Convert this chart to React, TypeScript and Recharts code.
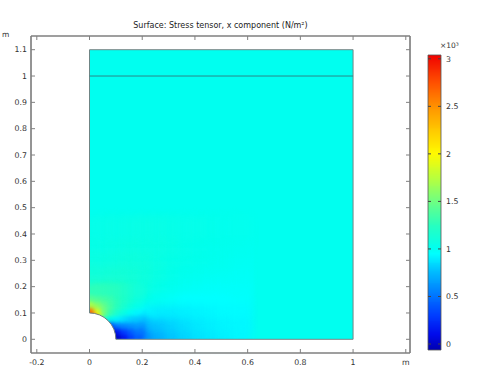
import React from 'react';
import { ComposedChart, XAxis, YAxis, ReferenceArea, ReferenceLine } from 'recharts';

// ---------- text ----------
const TITLE = 'Surface: Stress tensor, x component (N/m²)';
const X_UNIT = 'm';
const Y_UNIT = 'm';
const COLORBAR_SCALE = '×10³';

// ---------- axes ----------
const xTicks = [-0.2, 0, 0.2, 0.4, 0.6, 0.8, 1, 1.2];
const yTicks = [0, 0.1, 0.2, 0.3, 0.4, 0.5, 0.6, 0.7, 0.8, 0.9, 1, 1.1];
const xDomain = [-0.222, 1.216];
const yDomain = [-0.052, 1.152];

// ---------- colour bar (values in 10^3 N/m^2) ----------
const colorbarTicks = [0, 0.5, 1, 1.5, 2, 2.5, 3];
const colorbarRange = [-0.063, 3.04];
const colorbarStep = 0.01;

// ---------- geometry (m) ----------
const plateX = [0, 1];
const plateY = [0, 1.1];
const partitionY = 1;
const holeRadius = 0.1;
const farFieldValue = 1.0;

// ---------- field near the hole: fine cells (0.025 m) ----------
const fineEdges = [0, 0.025, 0.05, 0.075, 0.1, 0.125, 0.15, 0.175, 0.2];
// rows from bottom (y) to top, columns left (x) to right
const fineValues = [
  [0.5, -0.06, -0.03, -0.02, -0.02, 0.12, 0.29, 0.42],
  [2.34, 0.5, 0.02, -0.06, 0.16, 0.3, 0.41, 0.51],
  [2.74, 1.43, 0.5, 0.38, 0.55, 0.59, 0.62, 0.65],
  [2.95, 2.01, 1.22, 1.01, 0.93, 0.87, 0.82, 0.8],
  [2.65, 1.9, 1.5, 1.3, 1.16, 1.06, 0.98, 0.93],
  [1.72, 1.6, 1.46, 1.34, 1.25, 1.16, 1.09, 1.03],
  [1.42, 1.39, 1.35, 1.31, 1.25, 1.19, 1.14, 1.08],
  [1.27, 1.27, 1.26, 1.25, 1.23, 1.19, 1.15, 1.11],
];

// ---------- field around it: coarse cells (0.05 m) ----------
const coarseXEdges = [0, 0.05, 0.1, 0.15, 0.2, 0.25, 0.3, 0.35, 0.4, 0.45, 0.5, 0.55, 0.6];
const coarseYEdges = [0, 0.05, 0.1, 0.15, 0.2, 0.25, 0.3, 0.35, 0.4, 0.45];
const coarseValues = [
  [null, null, null, null, 0.59, 0.71, 0.78, 0.83, 0.87, 0.89, 0.91, 0.93],
  [null, null, null, null, 0.75, 0.79, 0.83, 0.86, 0.89, 0.91, 0.92, 0.93],
  [null, null, null, null, 0.93, 0.9, 0.9, 0.91, 0.92, 0.93, 0.94, 0.94],
  [null, null, null, null, 1.04, 0.99, 0.97, 0.95, 0.95, 0.95, 0.95, 0.96],
  [1.16, 1.18, 1.17, 1.13, 1.08, 1.04, 1.01, 0.99, 0.98, 0.97, 0.97, 0.97],
  [1.1, 1.11, 1.12, 1.11, 1.09, 1.06, 1.03, 1.01, 1.0, 0.99, 0.99, 0.98],
  [1.06, 1.07, 1.08, 1.09, 1.08, 1.06, 1.04, 1.03, 1.02, 1.01, 1.0, 0.99],
  [1.04, 1.05, 1.06, 1.07, 1.06, 1.06, 1.05, 1.03, 1.02, 1.01, 1.01, 1.0],
  [1.03, 1.04, 1.04, 1.05, 1.05, 1.05, 1.04, 1.03, 1.03, 1.02, 1.01, 1.01],
];

// ---------- colour table ----------
const cmapStops = [-0.063, 0.1, 0.3, 0.5, 0.75, 0.95, 1.0, 1.25, 1.5, 1.75, 2.0, 2.25, 2.5, 2.75, 3.04];
const cmapColors = [
  [0, 0, 175], [0, 10, 235], [0, 60, 255], [0, 115, 255], [0, 185, 255], [0, 255, 255],
  [0, 255, 240], [40, 255, 190], [110, 255, 130], [185, 255, 60], [255, 250, 0],
  [255, 200, 0], [255, 145, 0], [255, 80, 0], [240, 0, 0],
];

function colorFor(v: number): string {
  const s = cmapStops;
  const toRgb = (c: number[]) => `rgb(${Math.round(c[0])},${Math.round(c[1])},${Math.round(c[2])})`;
  if (v <= s[0]) return toRgb(cmapColors[0]);
  for (let k = 1; k < s.length; k++) {
    if (v <= s[k]) {
      const t = (v - s[k - 1]) / (s[k] - s[k - 1]);
      const a = cmapColors[k - 1];
      const b = cmapColors[k];
      return toRgb([a[0] + (b[0] - a[0]) * t, a[1] + (b[1] - a[1]) * t, a[2] + (b[2] - a[2]) * t]);
    }
  }
  return toRgb(cmapColors[cmapColors.length - 1]);
}

const FONT = 'DejaVu Sans';
const AXIS_GRAY = '#808080';
const LABEL = '#333333';

const crispShape = (p: any) => (
  <rect x={p.x} y={p.y} width={p.width} height={p.height} fill={p.fill} shapeRendering="crispEdges" />
);
// soft-edged cell: blurred, slightly enlarged so neighbours overlap; extra bleed at the plate edges
const softShape = (sigma: number, atLeft: boolean, atBottom: boolean) => (p: any) => {
  const pad = sigma;
  const padL = atLeft ? 2 * sigma : pad;
  const padB = atBottom ? 1.5 * sigma : pad;
  return (
    <rect
      x={p.x - padL} y={p.y - pad}
      width={p.width + padL + pad} height={p.height + pad + padB}
      fill={p.fill} style={{ filter: `blur(${sigma}px)` }}
    />
  );
};
const holeShape = (p: any) => {
  const { x, y, width: w, height: h } = p;
  return (
    <g>
      <path d={`M ${x} ${y} A ${w} ${h} 0 0 1 ${x + w} ${y + h} L ${x} ${y + h} Z`} fill="#ffffff" />
      <path d={`M ${x} ${y} A ${w} ${h} 0 0 1 ${x + w} ${y + h}`} fill="none" stroke="#707f7f" strokeWidth={1} />
    </g>
  );
};

function cells() {
  const out: any[] = [];
  coarseValues.forEach((row, j) =>
    row.forEach((v, i) => {
      if (v === null) return;
      out.push(
        <ReferenceArea
          key={`c-${i}-${j}`}
          x1={coarseXEdges[i]} x2={coarseXEdges[i + 1]} y1={coarseYEdges[j]} y2={coarseYEdges[j + 1]}
          fill={colorFor(v)} fillOpacity={1} stroke="none" ifOverflow="visible"
          shape={softShape(4, i === 0, j === 0)}
        />
      );
    })
  );
  fineValues.forEach((row, j) =>
    row.forEach((v, i) => {
      out.push(
        <ReferenceArea
          key={`f-${i}-${j}`}
          x1={fineEdges[i]} x2={fineEdges[i + 1]} y1={fineEdges[j]} y2={fineEdges[j + 1]}
          fill={colorFor(v)} fillOpacity={1} stroke="none" ifOverflow="visible"
          shape={softShape(2, i === 0, j === 0)}
        />
      );
    })
  );
  return out;
}

function colorbarSlices() {
  const out: any[] = [];
  const n = Math.round((colorbarRange[1] - colorbarRange[0]) / colorbarStep);
  for (let k = 0; k < n; k++) {
    const lo = colorbarRange[0] + k * colorbarStep;
    const hi = Math.min(colorbarRange[1], lo + colorbarStep);
    out.push(
      <ReferenceArea
        key={`cb-${k}`} yAxisId="cb" x1={0} x2={1} y1={lo} y2={hi}
        fill={colorFor((lo + hi) / 2)} fillOpacity={1} stroke="none" ifOverflow="visible" shape={crispShape}
      />
    );
  }
  return out;
}

const outline = '#6f8585';
const noLabel = () => '';

export default function App() {
  return (
    <div style={{ position: 'absolute', left: 0, top: 0, width: 483, height: 378, background: '#fff', fontFamily: FONT }}>
      <div
        style={{
          position: 'absolute', left: 31, width: 379, top: 21, textAlign: 'center',
          fontSize: 8, lineHeight: '10px', color: '#222', whiteSpace: 'nowrap',
        }}
      >
        {TITLE}
      </div>
      <div style={{ position: 'absolute', left: 2, top: 30, fontSize: 7.5, lineHeight: '9px', color: LABEL }}>{Y_UNIT}</div>
      <div style={{ position: 'absolute', left: 440, top: 41, fontSize: 7.5, lineHeight: '9px', color: LABEL }}>{COLORBAR_SCALE}</div>

      <div style={{ position: 'absolute', left: 0, top: 0 }}>
        <ComposedChart width={483} height={378} data={[]} margin={{ top: 35, right: 72, bottom: 0, left: 0 }}>
          <ReferenceArea
            x1={plateX[0]} x2={plateX[1]} y1={plateY[0]} y2={plateY[1]}
            fill={colorFor(farFieldValue)} fillOpacity={1} stroke="none" ifOverflow="visible" shape={crispShape}
          />
          {cells()}
          <ReferenceArea x1={-0.08} x2={plateX[0]} y1={-0.05} y2={0.6} fill="#ffffff" fillOpacity={1} stroke="none" ifOverflow="visible" shape={crispShape} />
          <ReferenceArea x1={-0.08} x2={0.8} y1={-0.05} y2={plateY[0]} fill="#ffffff" fillOpacity={1} stroke="none" ifOverflow="visible" shape={crispShape} />
          <ReferenceArea x1={0} x2={holeRadius} y1={0} y2={holeRadius} fill="#ffffff" fillOpacity={1} ifOverflow="visible" shape={holeShape} />
          <ReferenceLine segment={[{ x: plateX[0], y: holeRadius }, { x: plateX[0], y: plateY[1] }]} stroke={outline} strokeWidth={1} ifOverflow="visible" />
          <ReferenceLine segment={[{ x: plateX[0], y: plateY[1] }, { x: plateX[1], y: plateY[1] }]} stroke={outline} strokeWidth={1} ifOverflow="visible" />
          <ReferenceLine segment={[{ x: plateX[1], y: plateY[0] }, { x: plateX[1], y: plateY[1] }]} stroke={outline} strokeWidth={1} ifOverflow="visible" />
          <ReferenceLine segment={[{ x: holeRadius, y: plateY[0] }, { x: plateX[1], y: plateY[0] }]} stroke={outline} strokeWidth={1} ifOverflow="visible" />
          <ReferenceLine segment={[{ x: plateX[0], y: partitionY }, { x: plateX[1], y: partitionY }]} stroke="#2a8888" strokeWidth={1} ifOverflow="visible" />

          <ReferenceLine x={xDomain[0]} stroke={AXIS_GRAY} strokeWidth={1.2} ifOverflow="visible" />
          <ReferenceLine x={xDomain[1]} stroke={AXIS_GRAY} strokeWidth={1.2} ifOverflow="visible" />
          <ReferenceLine y={yDomain[0]} stroke={AXIS_GRAY} strokeWidth={1.2} ifOverflow="visible" />
          <ReferenceLine y={yDomain[1]} stroke={AXIS_GRAY} strokeWidth={1.2} ifOverflow="visible" />

          <XAxis
            type="number" dataKey="x" domain={xDomain} allowDataOverflow ticks={xTicks} interval={0}
            height={25} tickSize={-4} tickMargin={10}
            tickFormatter={(v: number) => (v === xTicks[xTicks.length - 1] ? X_UNIT : String(v))}
            axisLine={{ stroke: AXIS_GRAY, strokeWidth: 1.2 }} tickLine={{ stroke: AXIS_GRAY }}
            tick={{ fontSize: 7.8, fill: LABEL, fontFamily: FONT }}
          />
          <XAxis
            xAxisId="top" orientation="top" type="number" dataKey="x" domain={xDomain} allowDataOverflow ticks={xTicks} interval={0}
            height={1} tickSize={-4} tickFormatter={noLabel}
            axisLine={{ stroke: AXIS_GRAY, strokeWidth: 1.2 }} tickLine={{ stroke: AXIS_GRAY }}
            tick={{ fontSize: 1 }}
          />
          <YAxis
            type="number" dataKey="y" domain={yDomain} allowDataOverflow ticks={yTicks} interval={0}
            width={31} tickSize={-4} tickMargin={8}
            tickFormatter={(v: number) => String(v)}
            axisLine={{ stroke: AXIS_GRAY, strokeWidth: 1.2 }} tickLine={{ stroke: AXIS_GRAY }}
            tick={{ fontSize: 7.8, fill: LABEL, fontFamily: FONT }}
          />
          <YAxis
            yAxisId="right" orientation="right" type="number" dataKey="y" domain={yDomain} allowDataOverflow ticks={yTicks} interval={0}
            width={1} tickSize={-4} tickFormatter={noLabel}
            axisLine={{ stroke: AXIS_GRAY, strokeWidth: 1.2 }} tickLine={{ stroke: AXIS_GRAY }}
            tick={{ fontSize: 1 }}
          />
        </ComposedChart>
      </div>

      <div style={{ position: 'absolute', left: 400, top: 0 }}>
        <ComposedChart width={83} height={378} data={[]} margin={{ top: 55, right: 12, bottom: 28, left: 27 }}>
          <XAxis type="number" dataKey="x" domain={[0, 1]} allowDataOverflow hide />
          <YAxis
            yAxisId="cb" orientation="right" type="number" dataKey="v" domain={colorbarRange} allowDataOverflow
            ticks={colorbarTicks} interval={0} width={30} tickSize={-3} tickMargin={8}
            tickFormatter={(v: number) => String(v)}
            axisLine={false} tickLine={{ stroke: '#444' }}
            tick={{ fontSize: 7.8, fill: LABEL, fontFamily: FONT, textAnchor: 'start' }}
          />
          <YAxis
            yAxisId="cbl" orientation="left" type="number" dataKey="v" domain={colorbarRange} allowDataOverflow
            ticks={colorbarTicks} interval={0} width={1} tickSize={-3} tickFormatter={noLabel} tick={{ fontSize: 1 }}
            axisLine={false} tickLine={{ stroke: '#444' }}
          />
          {colorbarSlices()}
          <ReferenceArea
            yAxisId="cb" x1={0} x2={1} y1={colorbarRange[0]} y2={colorbarRange[1]}
            fill="none" fillOpacity={0} stroke="#555" strokeWidth={0.8} ifOverflow="visible"
          />
        </ComposedChart>
      </div>
    </div>
  );
}
